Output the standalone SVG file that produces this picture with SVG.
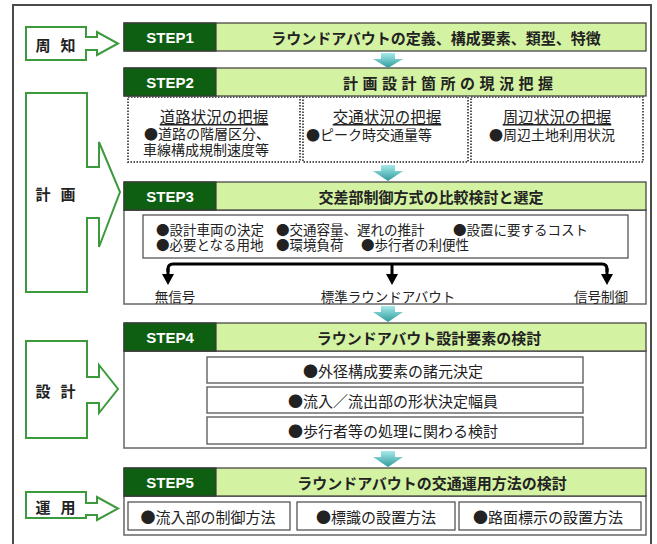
<svg xmlns="http://www.w3.org/2000/svg" width="657" height="544" viewBox="0 0 657 544">
<defs>
<style>
text{font-family:"Noto Sans CJK JP","Liberation Sans",sans-serif;fill:#222;dominant-baseline:central}
.frame{fill:none;stroke:#4a4a4a;stroke-width:2}
.phase{fill:#fff;stroke:#3c9a3c;stroke-width:2;stroke-linejoin:miter}
.ph{font-size:15px;font-weight:bold;text-anchor:middle}
.sl{fill:#0f5f12;stroke:#3a3a3a;stroke-width:1.2}
.sb{fill:#d4f3a2;stroke:#3a3a3a;stroke-width:1.2}
.st{font-family:"Liberation Sans",Arial,sans-serif;font-size:15px;font-weight:bold;fill:#fff;text-anchor:middle}
.ht{font-size:15px;font-weight:bold;text-anchor:middle}
.cb{fill:#fff;stroke:#666;stroke-width:1.5}
.ib{fill:#fff;stroke:#555;stroke-width:1.3}
.db{fill:#fff;stroke:#555;stroke-width:2;stroke-dasharray:1.5 1.5}
.bt{font-size:14px}
.bs{font-size:13.5px}
.bl{font-size:15px}
.c{text-anchor:middle}
.u{text-decoration:underline}
.conn{fill:none;stroke:#000;stroke-width:3}
.flow{fill:url(#cy)}
</style>
<linearGradient id="cy" x1="0" y1="0" x2="0" y2="1">
<stop offset="0" stop-color="#a6eaea"/>
<stop offset="1" stop-color="#2f9a9c"/>
</linearGradient>
<marker id="ah" markerUnits="userSpaceOnUse" markerWidth="12" markerHeight="12" refX="2" refY="6" orient="auto" viewBox="0 0 12 12">
<path d="M0,0 L11,6 L0,12 Z" fill="#000"/>
</marker>
</defs>

<rect class="frame" x="13" y="5" width="638" height="570"/>

<!-- phase shapes -->
<g id="phase-shuchi">
<path class="phase" d="M26,27 H86 V37 H97 V32 L118,43.5 L97,55 V50 H86 V60 H26 Z"/>
<text class="ph" y="44"><tspan x="43">周</tspan><tspan x="68">知</tspan></text>
</g>
<g id="phase-keikaku">
<path class="phase" d="M26,93 H87 V167 H99 V142 L120,192 L99,247 V218 H87 V292 H26 Z"/>
<text class="ph" y="193"><tspan x="43">計</tspan><tspan x="68">画</tspan></text>
</g>
<g id="phase-sekkei">
<path class="phase" d="M26,341 H87 V377 H99 V365 L118,389 L99,413 V403 H87 V438 H26 Z"/>
<text class="ph" y="390"><tspan x="43">設</tspan><tspan x="68">計</tspan></text>
</g>
<g id="phase-unyo">
<path class="phase" d="M26,492 H86 V503 H97 V497 L118,508.5 L97,520 V515 H86 V518 H26 Z"/>
<text class="ph" y="506"><tspan x="43">運</tspan><tspan x="68">用</tspan></text>
</g>

<!-- STEP1 -->
<g id="step1">
<rect class="sb" x="124" y="23" width="522" height="28"/>
<rect class="sl" x="124" y="23" width="92" height="28"/>
<text class="st" x="170" y="37">STEP1</text>
<text class="ht" x="436" y="37">ラウンドアバウトの定義、構成要素、類型、特徴</text>
</g>

<!-- STEP2 -->
<g id="step2">
<rect class="sb" x="124" y="68" width="522" height="28"/>
<rect class="sl" x="124" y="68" width="92" height="28"/>
<text class="st" x="170" y="82">STEP2</text>
<text class="ht" x="448" y="82" textLength="210" lengthAdjust="spacing">計画設計箇所の現況把握</text>
<rect class="db" x="128" y="97" width="172" height="65"/>
<rect class="db" x="303" y="97" width="165" height="65"/>
<rect class="db" x="471" y="97" width="172" height="65"/>
<text class="bt"><tspan class="c u" x="214" y="116" font-size="15.5">道路状況の把握</tspan><tspan x="144" y="133">●道路の階層区分、</tspan><tspan x="143" y="148.5">車線構成規制速度等</tspan></text>
<text class="bt"><tspan class="c u" x="387" y="116" font-size="15.5">交通状況の把握</tspan><tspan x="306" y="134">●ピーク時交通量等</tspan></text>
<text class="bt"><tspan class="c u" x="557" y="116" font-size="15.5">周辺状況の把握</tspan><tspan class="c" x="552" y="134">●周辺土地利用状況</tspan></text>
</g>

<!-- STEP3 -->
<g id="step3">
<rect class="cb" x="124" y="210" width="522" height="94"/>
<rect class="sb" x="124" y="182" width="522" height="28"/>
<rect class="sl" x="124" y="182" width="92" height="28"/>
<text class="st" x="170" y="196">STEP3</text>
<text class="ht" x="431" y="196">交差部制御方式の比較検討と選定</text>
<rect class="ib" x="143" y="215" width="485" height="43"/>
<text class="bs"><tspan x="156" y="228.5">●設計車両の決定</tspan><tspan x="276" y="228.5">●交通容量、遅れの推計</tspan><tspan x="453" y="228.5">●設置に要するコスト</tspan><tspan x="156" y="243.5">●必要となる用地</tspan><tspan x="276" y="243.5">●環境負荷</tspan><tspan x="361" y="243.5">●歩行者の利便性</tspan></text>
<text class="bs c" x="175" y="296">無信号</text>
<text class="bs c" x="388" y="296">標準ラウンドアバウト</text>
<text class="bs c" x="601" y="296">信号制御</text>
</g>

<!-- STEP4 -->
<g id="step4">
<rect class="cb" x="124" y="351" width="522" height="97"/>
<rect class="sb" x="124" y="323" width="522" height="28"/>
<rect class="sl" x="124" y="323" width="92" height="28"/>
<text class="st" x="170" y="337">STEP4</text>
<text class="ht" x="429" y="337">ラウンドアバウト設計要素の検討</text>
<rect class="ib" x="207" y="357" width="376" height="26"/>
<rect class="ib" x="207" y="387" width="376" height="26"/>
<rect class="ib" x="207" y="417" width="376" height="27"/>
<text class="bl c" x="393" y="370">●外径構成要素の諸元決定</text>
<text class="bl c" x="393" y="400">●流入／流出部の形状決定幅員</text>
<text class="bl c" x="393" y="430.5">●歩行者等の処理に関わる検討</text>
</g>

<!-- STEP5 -->
<g id="step5">
<rect class="cb" x="124" y="496" width="522" height="39"/>
<rect class="sb" x="124" y="468" width="522" height="28"/>
<rect class="sl" x="124" y="468" width="92" height="28"/>
<text class="st" x="170" y="482">STEP5</text>
<text class="ht" x="432" y="482">ラウンドアバウトの交通運用方法の検討</text>
<rect class="ib" x="128" y="502" width="162" height="28"/>
<rect class="ib" x="297" y="502" width="158" height="28"/>
<rect class="ib" x="459" y="502" width="182" height="28"/>
<text class="bl c" x="208" y="516">●流入部の制御方法</text>
<text class="bl c" x="376" y="516">●標識の設置方法</text>
<text class="bl c" x="548" y="516">●路面標示の設置方法</text>
</g>

<!-- connectors -->
<g id="connectors">
<path class="flow" d="M381,53 H395 V59 H403 L388,68 L373,59 H381 Z"/>
<path class="flow" d="M381,165 H395 V171 H403 L388,181 L373,171 H381 Z"/>
<path class="flow" d="M381,306 H395 V312 H403 L388,322 L373,312 H381 Z"/>
<path class="flow" d="M381,451 H395 V457 H403 L388,467 L373,457 H381 Z"/>
<path class="conn" d="M168,272 V269 Q168,264 173,264 H602 Q607,264 607,269 V272"/>
<path class="conn" d="M168,268 V276" marker-end="url(#ah)"/>
<path class="conn" d="M392,264 V276" marker-end="url(#ah)"/>
<path class="conn" d="M607,268 V276" marker-end="url(#ah)"/>
</g>
</svg>
